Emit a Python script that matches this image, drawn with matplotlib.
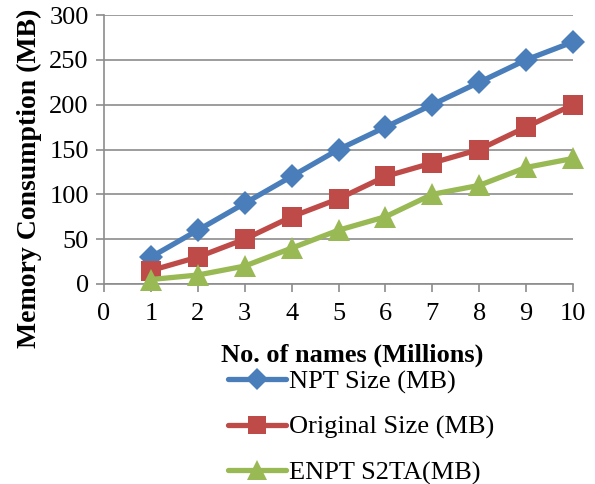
import matplotlib
matplotlib.use("Agg")
import matplotlib.pyplot as plt
from matplotlib.lines import Line2D

plt.rcParams['font.family'] = ['Liberation Serif', 'DejaVu Serif']

names_millions = [1, 2, 3, 4, 5, 6, 7, 8, 9, 10]
npt_size = [30, 60, 90, 120, 150, 175, 200, 225, 250, 270]
original_size = [15, 30, 50, 75, 95, 120, 135, 150, 175, 200]
enpt_s2ta = [5, 10, 20, 40, 60, 75, 100, 110, 130, 140]

series_labels = ["NPT Size (MB)", "Original Size (MB)", "ENPT S2TA(MB)"]
colors = ["#4A7EBB", "#BE4B48", "#98B954"]
markers = ["D", "s", "^"]
marker_sizes = [12.5, 14.5, 15.5]

W, H = 595, 484
fig = plt.figure(figsize=(W / 100, H / 100), dpi=100)
ax = fig.add_axes([104 / W, 1 - 284 / H, (573 - 104) / W, (284 - 15) / H])

for vals, lab, c, m, ms in zip([npt_size, original_size, enpt_s2ta],
                               series_labels, colors, markers, marker_sizes):
    ax.plot(names_millions, vals, color=c, lw=3.8, marker=m, ms=ms,
            markeredgewidth=0, label=lab, solid_capstyle='round', clip_on=False, zorder=3)

ax.set_xlim(0, 10)
ax.set_ylim(0, 300)
ax.set_xticks(range(0, 11))
ax.set_yticks(range(0, 301, 50))
ax.yaxis.grid(True, color="#8C8C8C", lw=1.2)
ax.set_axisbelow(True)
for s in ["top", "right"]:
    ax.spines[s].set_visible(False)
for s in ["left", "bottom"]:
    ax.spines[s].set_color("#8C8C8C")
    ax.spines[s].set_linewidth(1.2)
ax.tick_params(axis="y", length=6, width=1.2, color="#8C8C8C", labelsize=19, pad=5)
ax.tick_params(axis="x", length=6, width=1.2, color="#8C8C8C", labelsize=19, pad=8)

fig.text(352 / W, 1 - 355 / H, "No. of names (Millions)", ha="center", va="center",
         fontsize=19, fontweight="bold")
fig.text(29 / W, 1 - 178 / H, "Memory Consumption (MB)", ha="center", va="center",
         rotation=90, fontsize=20, fontweight="bold")

handles = [Line2D([0], [0], color=c, lw=3.8, marker=m, ms=ms * 0.9, markeredgewidth=0,
                  solid_capstyle='round')
           for c, m, ms in zip(colors, markers, marker_sizes)]
leg = fig.legend(handles, series_labels, loc="upper left",
                 bbox_to_anchor=(228 / W, 1 - 370 / H), frameon=False,
                 fontsize=19, handlelength=2.2, handletextpad=0.1,
                 labelspacing=0.82, borderaxespad=0, borderpad=0)

fig.savefig("out.png", dpi=100)
